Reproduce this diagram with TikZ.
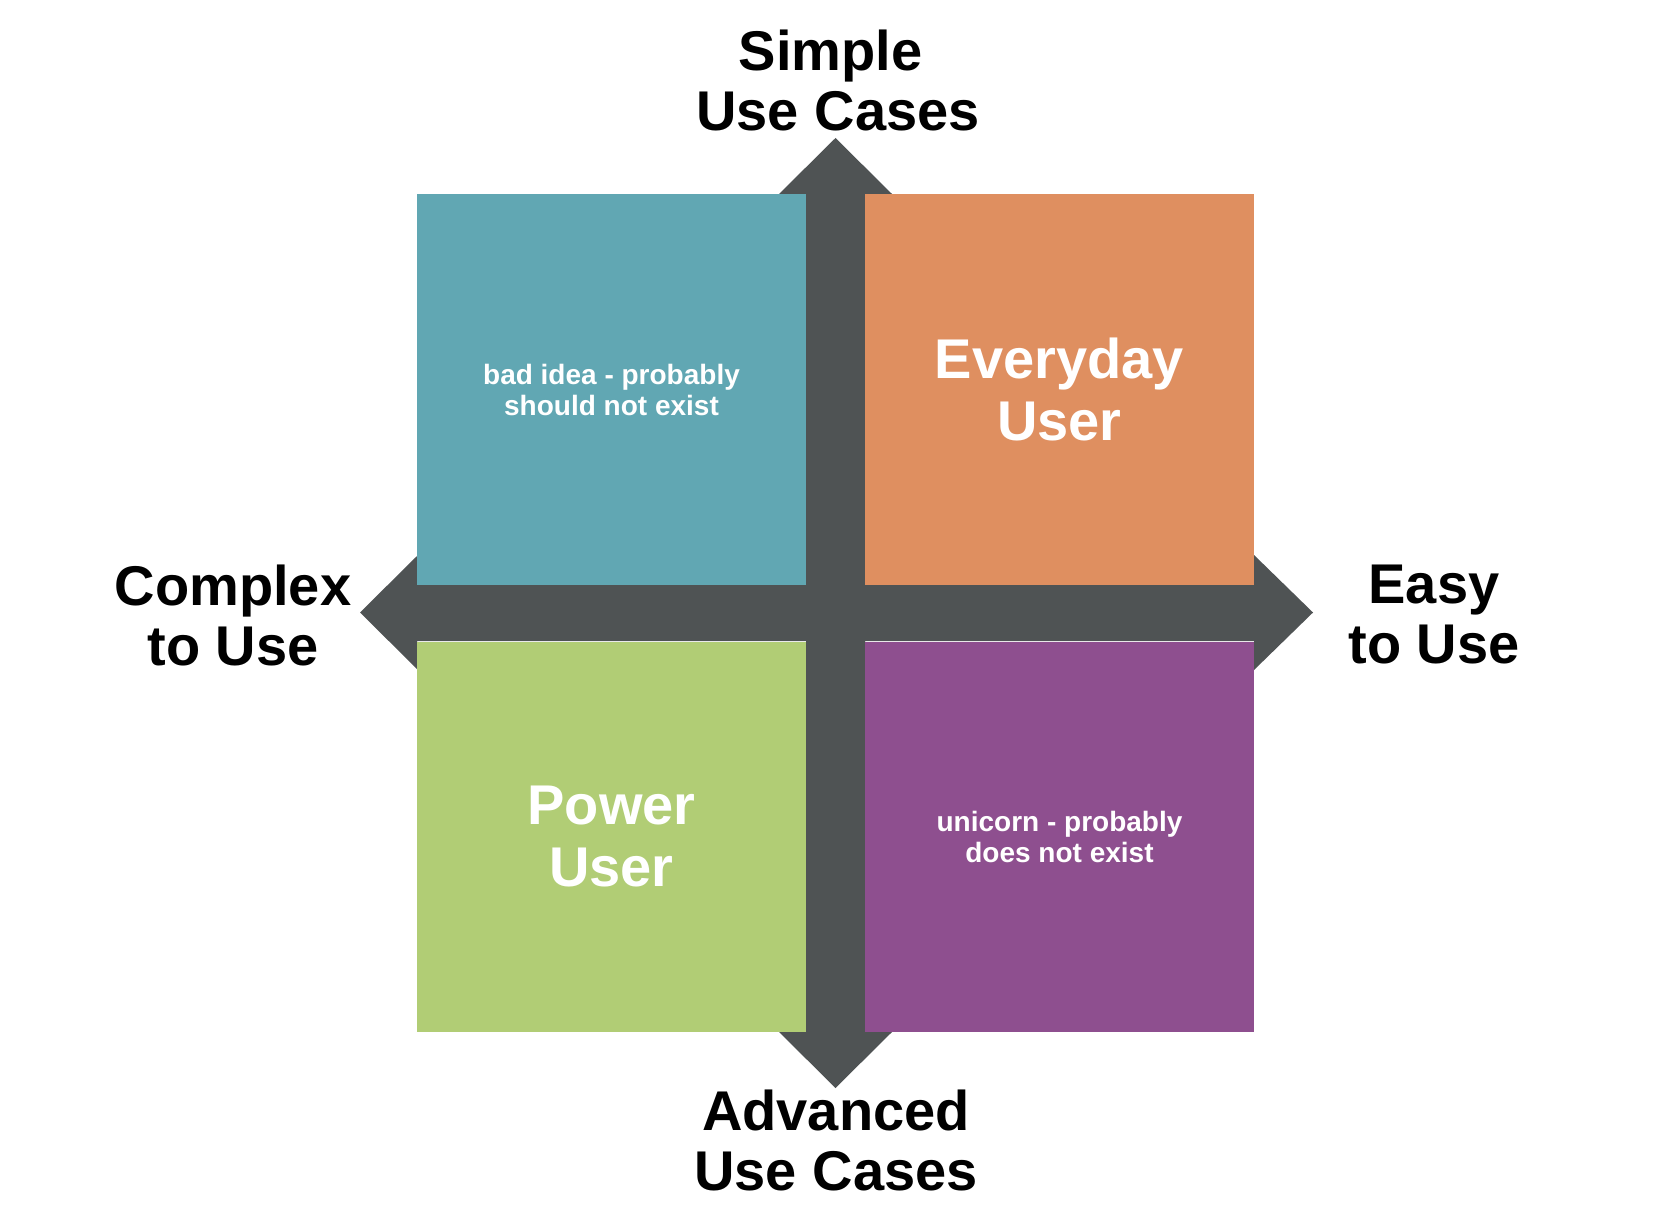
\documentclass[tikz,border=0pt]{standalone}
\usepackage{fontspec}
\setmainfont{Liberation Sans}
\usetikzlibrary{positioning}

\definecolor{quadteal}{HTML}{61A7B3}
\definecolor{quadorange}{HTML}{DF8F60}
\definecolor{quadgreen}{HTML}{B1CD75}
\definecolor{quadpurple}{HTML}{8E4F8F}
\definecolor{axisgray}{HTML}{4F5354}

\begin{document}
\begin{tikzpicture}
    [x=0.5pt,y=-0.5pt,%
      quad/.style={shape=rectangle,inner sep=0pt,outer sep=0pt,minimum width=194.5pt,minimum height=195pt,text=white,align=center},%
      big/.style={font=\bfseries\fontsize{28}{31}\selectfont},%
      small/.style={font=\bfseries\fontsize{14}{15.5}\selectfont},%
      axislabel/.style={align=center,font=\bfseries\fontsize{28}{30}\selectfont}]
    \useasboundingbox (0,0) rectangle (1674,1230);
    % the two axes with their four heads
    \fill[axisgray] (835.5,138) -- (893,195) -- (865,195) -- (865,584)
          -- (1254,584) -- (1254,555) -- (1313,612.5) -- (1254,670) -- (1254,641)
          -- (865,641) -- (865,1031) -- (893,1031) -- (835.5,1088) -- (778,1031)
          -- (806,1031) -- (806,641) -- (417,641) -- (417,669) -- (360,612.5)
          -- (417,556) -- (417,584) -- (806,584) -- (806,195) -- (778,195) -- cycle;
    % quadrants
    \node[quad,fill=quadteal,small] (bad) at (611.5,389.5) {bad idea - probably\\should not exist};
    \node[quad,fill=quadorange,big,right=29.5pt of bad] (everyday) {Everyday\\User};
    \node[quad,fill=quadgreen,big,below=28.5pt of bad] (power) {Power\\User};
    \node[quad,fill=quadpurple,small,below=28.5pt of everyday] (unicorn) {unicorn - probably\\does not exist};
    % axis labels
    \node[axislabel] (simple) at (838,80) {Simple\kern7.5pt\\Use Cases};
    \node[axislabel] (advanced) at (836,1140) {Advanced\\Use Cases};
    \node[axislabel] (complex) at (233,615) {Complex\\to Use};
    \node[axislabel] (easy) at (1434,615) {Easy\\to Use};
\end{tikzpicture}
\end{document}
